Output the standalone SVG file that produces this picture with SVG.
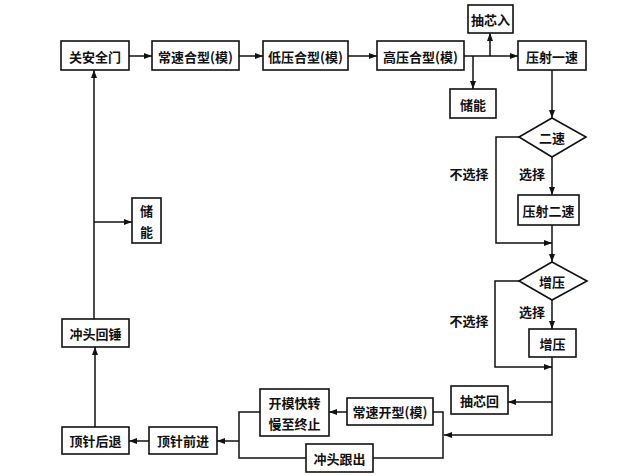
<svg xmlns="http://www.w3.org/2000/svg" width="619" height="476" viewBox="0 0 619 476">
<style>
.b{fill:#fff;stroke:#111;stroke-width:1.6}
.t{font-family:"Noto Sans CJK SC","Noto Sans CJK JP",sans-serif;font-size:13px;font-weight:700;fill:#111;text-anchor:middle;dominant-baseline:central}
.c{fill:none;stroke:#111;stroke-width:1.5}
</style>
<defs>
<marker id="a" markerUnits="userSpaceOnUse" markerWidth="9" markerHeight="7" refX="8" refY="3" orient="auto"><path d="M0,0 L8,3 L0,6 z" fill="#111"/></marker>
</defs>
<rect width="619" height="476" fill="#fff"/>
<g id="connectors">
<path class="c" d="M129,56 H152" marker-end="url(#a)"/>
<path class="c" d="M239,56 H263" marker-end="url(#a)"/>
<path class="c" d="M348,56 H377" marker-end="url(#a)"/>
<path class="c" d="M464,56 H518" marker-end="url(#a)"/>
<path class="c" d="M490,56 V33" marker-end="url(#a)"/>
<path class="c" d="M473,56 V89" marker-end="url(#a)"/>
<path class="c" d="M552,70 V118" marker-end="url(#a)"/>
<path class="c" d="M552,157 V195" marker-end="url(#a)"/>
<path class="c" d="M519,137 H496 V243 H552" marker-end="url(#a)"/>
<path class="c" d="M552,225 V262" marker-end="url(#a)"/>
<path class="c" d="M552,300 V329" marker-end="url(#a)"/>
<path class="c" d="M519,281 H495 V367 H552" marker-end="url(#a)"/>
<path class="c" d="M552,357 V435 H444" marker-end="url(#a)"/>
<path class="c" d="M552,402 H508" marker-end="url(#a)"/>
<path class="c" d="M433,412 H443 V458 H373"/>
<path class="c" d="M347,412 H329" marker-end="url(#a)"/>
<path class="c" d="M260,412 H239 V458 H306"/>
<path class="c" d="M239,441 H217" marker-end="url(#a)"/>
<path class="c" d="M149,441 H129" marker-end="url(#a)"/>
<path class="c" d="M95,427 V347" marker-end="url(#a)"/>
<path class="c" d="M94,319 V70" marker-end="url(#a)"/>
<path class="c" d="M94,222 H132" marker-end="url(#a)"/>
</g>
<g id="n-guanmen"><rect class="b" x="61" y="41" width="68" height="29"/><text class="t" x="95" y="56">关安全门</text></g>
<g id="n-changsu-he"><rect class="b" x="152" y="41" width="87" height="29"/><text class="t" x="195.5" y="56">常速合型(模)</text></g>
<g id="n-diya-he"><rect class="b" x="263" y="41" width="85" height="29"/><text class="t" x="305.5" y="56">低压合型(模)</text></g>
<g id="n-gaoya-he"><rect class="b" x="377" y="41" width="87" height="29"/><text class="t" x="420.5" y="56">高压合型(模)</text></g>
<g id="n-chouxin-ru"><rect class="b" x="468" y="5" width="45" height="28"/><text class="t" x="490.5" y="19">抽芯入</text></g>
<g id="n-chuneng-top"><rect class="b" x="450" y="89" width="46" height="29"/><text class="t" x="473" y="104">储能</text></g>
<g id="n-yashe1"><rect class="b" x="518" y="41" width="68" height="29"/><text class="t" x="552" y="56">压射一速</text></g>
<g id="n-d-ersu"><polygon class="b" points="552,118 586,137 552,157 519,137"/><text class="t" x="552" y="137">二速</text></g>
<g id="n-yashe2"><rect class="b" x="518" y="195" width="61" height="30"/><text class="t" x="548.5" y="210">压射二速</text></g>
<g id="n-d-zengya"><polygon class="b" points="552,262 587,281 552,300 519,281"/><text class="t" x="552" y="281">增压</text></g>
<g id="n-zengya"><rect class="b" x="529" y="329" width="47" height="28"/><text class="t" x="552.5" y="343">增压</text></g>
<g id="n-chouxin-hui"><rect class="b" x="451" y="386" width="57" height="28"/><text class="t" x="479.5" y="400">抽芯回</text></g>
<g id="n-changsu-kai"><rect class="b" x="347" y="398" width="86" height="27"/><text class="t" x="390" y="411.5">常速开型(模)</text></g>
<g id="n-kaimo"><rect class="b" x="260" y="389" width="69" height="47"/><text class="t" x="294.5" y="402">开模快转</text><text class="t" x="294.5" y="423">慢至终止</text></g>
<g id="n-chongtou-genchu"><rect class="b" x="306" y="444" width="67" height="28"/><text class="t" x="339.5" y="458">冲头跟出</text></g>
<g id="n-dingzhen-qian"><rect class="b" x="149" y="427" width="68" height="27"/><text class="t" x="183" y="440.5">顶针前进</text></g>
<g id="n-dingzhen-hou"><rect class="b" x="62" y="427" width="67" height="27"/><text class="t" x="95.5" y="440.5">顶针后退</text></g>
<g id="n-chongtou-huichui"><rect class="b" x="62" y="319" width="67" height="28"/><text class="t" x="95.5" y="333">冲头回锤</text></g>
<g id="n-chuneng-left"><rect class="b" x="132" y="198" width="29" height="45"/><text class="t" x="146.5" y="210">储</text><text class="t" x="146.5" y="231">能</text></g>
<g id="labels">
<text class="t" x="469" y="173">不选择</text>
<text class="t" x="532" y="173">选择</text>
<text class="t" x="469" y="320">不选择</text>
<text class="t" x="532" y="311">选择</text>
</g>
</svg>
